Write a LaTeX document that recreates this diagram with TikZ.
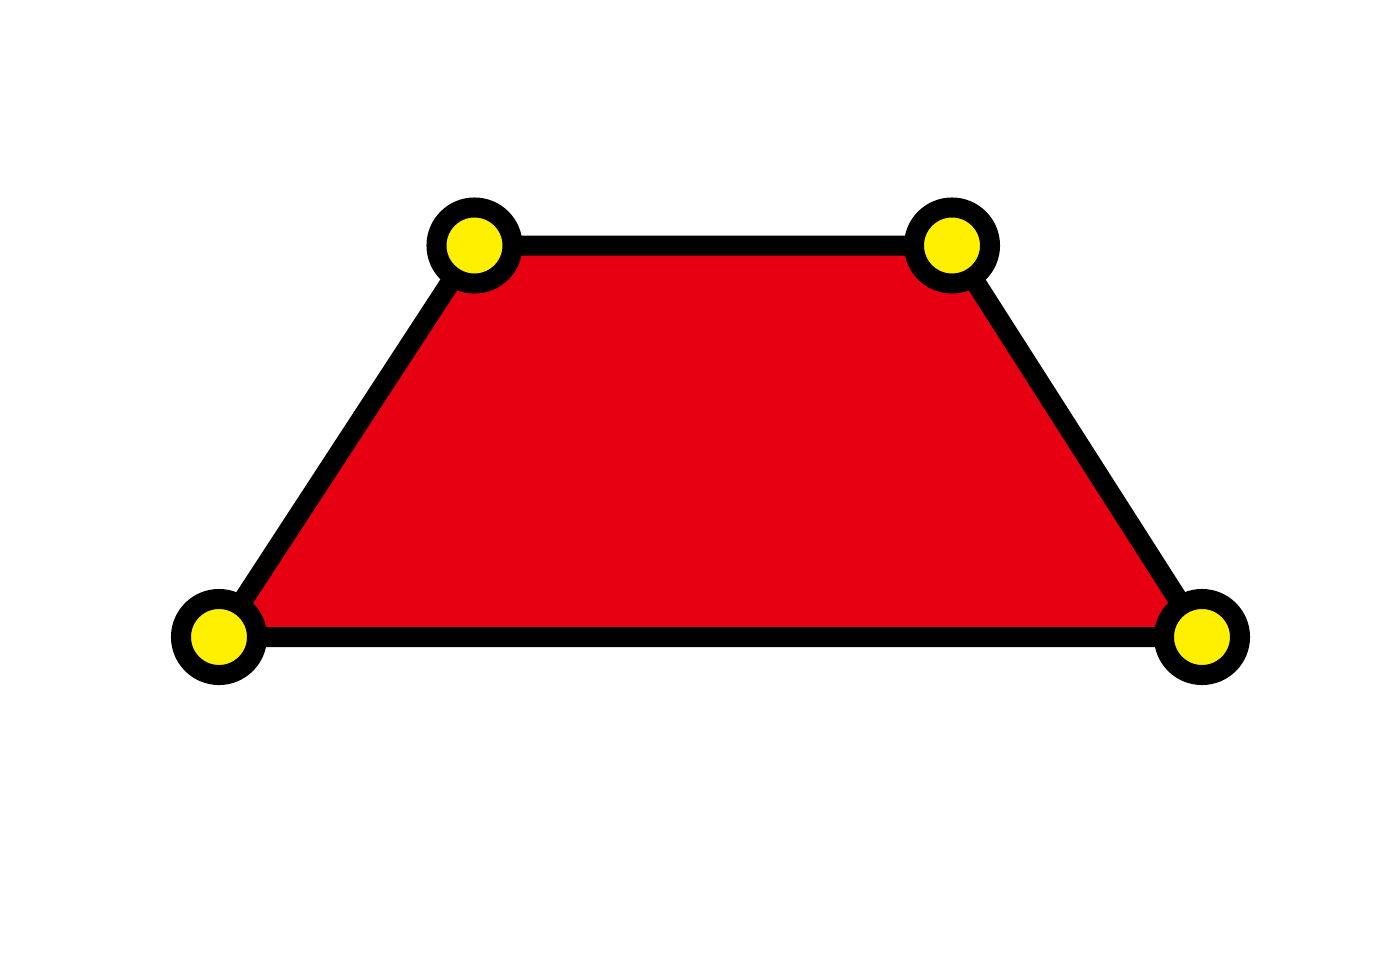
\documentclass[tikz,border=0pt]{standalone}
\begin{document}
\begin{tikzpicture}[x=0.01cm,y=-0.01cm,
  edge/.style={draw=black,line width=0.2cm},
  vertex/.style={circle,draw=black,fill=vyellow,line width=0.2cm,minimum size=0.76cm,inner sep=0pt}]
\definecolor{vred}{HTML}{E60012}
\definecolor{vyellow}{HTML}{FFF000}
\useasboundingbox (0,0) rectangle (1375,975);
\coordinate (A) at (219,637);
\coordinate (B) at (474.5,245.5);
\coordinate (C) at (952,245.5);
\coordinate (D) at (1202,637);
\fill[vred] (A) -- (B) -- (C) -- (D) -- cycle;
\draw[edge] (A) -- (B) -- (C) -- (D) -- cycle;
\node[vertex] (a) at (A) {};
\node[vertex] (b) at (B) {};
\node[vertex] (c) at (C) {};
\node[vertex] (d) at (D) {};
\end{tikzpicture}
\end{document}
